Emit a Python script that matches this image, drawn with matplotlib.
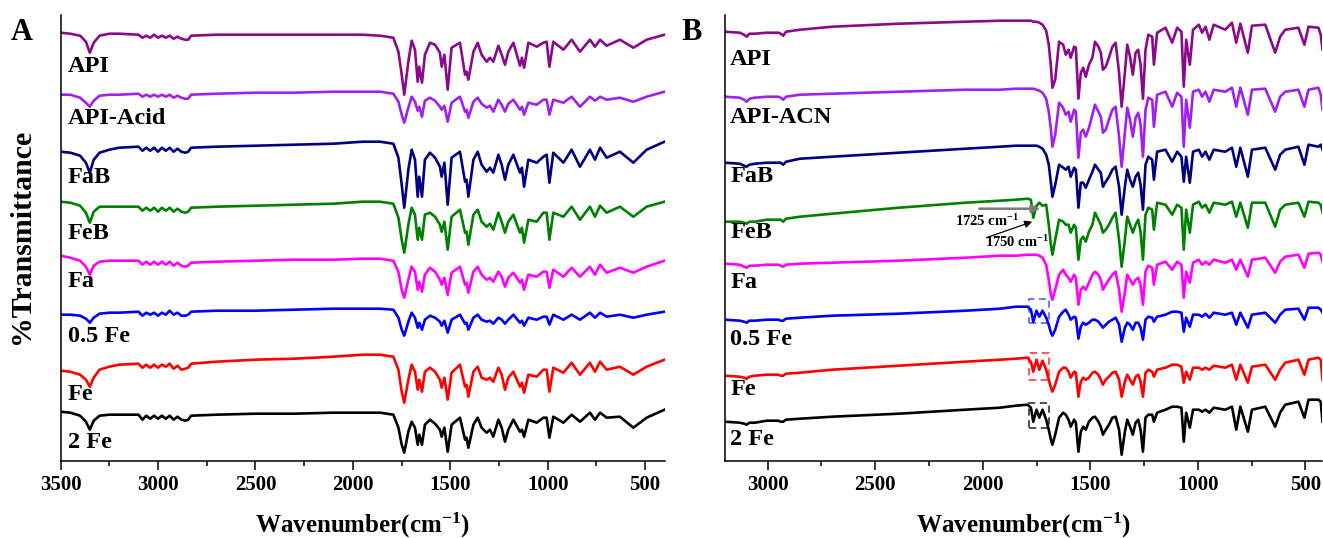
import numpy as np
import matplotlib

matplotlib.use("Agg")
import matplotlib.pyplot as plt
from matplotlib.patches import Rectangle
from matplotlib.ticker import MultipleLocator

plt.rcParams["font.family"] = ["Liberation Serif", "DejaVu Serif"]
plt.rcParams["font.weight"] = "bold"
plt.rcParams["mathtext.fontset"] = "custom"
plt.rcParams["mathtext.rm"] = "Liberation Serif:bold"
plt.rcParams["mathtext.it"] = "Liberation Serif:bold"
plt.rcParams["mathtext.bf"] = "Liberation Serif:bold"

COLORS = ["#8B0A8B", "#A020F0", "#000080", "#008000", "#FF00FF", "#0000FF", "#FF0000", "#000000"]

# ---- panel A: full-range spectra (relative transmittance, a.u.) ----
NAMES_A = ["API", "API-Acid", "FaB", "FeB", "Fa", "0.5 Fe", "Fe", "2 Fe"]

WN_A = [3500, 3450, 3400, 3370, 3350, 3330, 3300, 3250, 3200, 3100,
        3080, 3060, 3040, 3020, 3000, 2980, 2960, 2940, 2920, 2900,
        2880, 2860, 2845, 2830, 2700, 2500, 2300, 2100, 1950, 1860,
        1792, 1766, 1749, 1736, 1715, 1698, 1681, 1667, 1659, 1645,
        1630, 1604, 1578, 1553, 1544, 1530, 1513, 1493, 1450, 1424,
        1416, 1407, 1381, 1359, 1339, 1313, 1296, 1279, 1253, 1236,
        1219, 1202, 1176, 1142, 1132, 1121, 1099, 1056, 1022, 1005,
        991, 971, 919, 877, 834, 783, 757, 731, 697, 629,
        560, 492, 400]

API_A = [0, -1, -3, -9, -20, -10, -3, -1, -1, -2, -5, -3, -5, -2, -5, -3, -5, -3, -6, -4,
         -6, -7, -7, -3, -2, -2, -2, -2, -2, -3,
         -5, -19, -42, -62, -29, -8, -17, -49, -34, -50, -22, -10, -12, -20, -34, -22, -57, -15, -10, -42,
         -39, -47, -19, -10, -22, -29, -25, -29, -13, -22, -32, -19, -10, -33, -25, -35, -10, -14, -10, -9,
         -34, -9, -17, -7, -19, -7, -14, -7, -13, -7, -15, -7, -2]
API_ACID_A = [0, 0, -3, -8, -12, -6, -1, 0, 0, 1, -2, 0, -2, 0, -2, 0, -2, 0, -3, -1,
              -3, -4, -4, 0, 1, 2, 2, 3, 3, 3,
              1, -7, -20, -28, -13, -2, -7, -16, -12, -22, -6, -3, -6, -12, -15, -11, -27, -8, -2, -17,
              -15, -23, -7, -3, -9, -13, -11, -17, -5, -10, -17, -9, -5, -15, -12, -20, -8, -10, -5, -5,
              -20, -5, -8, -2, -12, -2, -6, -2, -5, -3, -7, -2, 3]
FAB_A = [0, -1, -4, -11, -21, -8, -1, 2, 4, 5, 1, 4, 1, 4, 0, 4, 1, 4, 0, 3,
         0, -1, 0, 4, 5, 6, 7, 8, 10, 10,
         8, -6, -33, -56, -18, 2, -8, -45, -25, -45, -8, -1, -6, -15, -25, -11, -53, -6, 0, -30,
         -28, -45, -8, 0, -13, -20, -16, -21, -3, -13, -28, -13, -3, -21, -16, -35, -8, -11, -5, -3,
         -31, -1, -11, 2, -15, 2, -8, 4, -6, 0, -11, 2, 10]
FEB_A = [0, -1, -4, -11, -21, -10, -5, -5, -5, -5, -9, -6, -9, -6, -10, -6, -9, -6, -10, -7,
         -10, -11, -10, -6, -5, -4, -3, -2, 0, 0,
         -2, -16, -38, -51, -23, -6, -13, -38, -26, -38, -13, -11, -15, -23, -30, -20, -48, -15, -8, -31,
         -30, -43, -13, -8, -20, -25, -22, -28, -11, -20, -31, -20, -13, -31, -26, -41, -18, -20, -11, -11,
         -38, -11, -15, -5, -18, -5, -15, -4, -11, -5, -15, -5, 0]
FA_A = [0, -2, -5, -11, -19, -10, -6, -5, -5, -5, -9, -6, -9, -6, -9, -6, -9, -6, -10, -7,
        -10, -11, -10, -7, -6, -5, -4, -4, -3, -3,
        -5, -16, -34, -42, -24, -11, -16, -34, -26, -36, -19, -12, -16, -24, -29, -22, -39, -17, -11, -29,
        -27, -37, -16, -11, -19, -24, -22, -26, -16, -21, -31, -22, -17, -27, -24, -34, -19, -21, -16, -16,
        -32, -14, -21, -12, -21, -11, -19, -9, -17, -12, -17, -11, -5]
FE05_A = [0, 0, -1, -4, -8, -3, 1, 2, 2, 3, -1, 2, 0, 2, -1, 2, 0, 4, 0, 2,
          -1, -1, 0, 3, 4, 4, 5, 6, 6, 6,
          5, -3, -15, -21, -7, 2, -3, -13, -8, -15, -5, -1, -3, -7, -11, -6, -18, -5, 0, -9,
          -8, -15, -3, 0, -5, -7, -6, -9, -3, -5, -9, -5, 0, -8, -6, -11, -3, -5, -2, -2,
          -10, 0, -5, 0, -5, 2, -3, 2, -2, 0, -3, 0, 3]
FE1_A = [0, -1, -4, -9, -16, -7, 1, 4, 6, 7, 3, 6, 3, 6, 3, 6, 4, 7, 2, 5,
         1, 2, 3, 7, 9, 11, 12, 14, 16, 16,
         14, 1, -21, -32, -9, 6, -1, -19, -9, -21, -1, 3, -1, -9, -17, -7, -29, -2, 6, -16,
         -14, -26, -1, 4, -7, -9, -7, -11, 3, -4, -19, -7, -1, -16, -12, -22, -4, -6, 1, 1,
         -21, 3, -2, 8, -4, 8, -1, 9, 1, 4, -4, 4, 11]
FE2_A = [0, -1, -4, -10, -18, -9, -4, -3, -3, -3, -8, -4, -7, -4, -7, -4, -7, -4, -8, -5,
         -8, -9, -8, -4, -3, -2, -2, -1, -1, -1,
         -3, -16, -33, -41, -20, -10, -16, -33, -23, -33, -13, -8, -12, -18, -25, -16, -40, -13, -6, -28,
         -26, -36, -13, -6, -16, -21, -18, -25, -8, -16, -30, -18, -8, -20, -18, -25, -8, -11, -6, -6,
         -26, -5, -11, -3, -10, -1, -8, -1, -6, -5, -16, -6, 2]

# ---- panel B: solvate / iron series ----
NAMES_B = ["API", "API-ACN", "FaB", "FeB", "Fa", "0.5 Fe", "Fe", "2 Fe"]

WN_B = [3200, 3130, 3110, 3098, 3085, 3060, 3005, 2950, 2940, 2928,
        2915, 2850, 2700, 2390, 2080, 1920, 1846, 1792, 1776, 1765,
        1750, 1737, 1722, 1705, 1693, 1683, 1676, 1663, 1645, 1626,
        1614, 1601, 1591, 1575, 1567, 1555, 1544, 1533, 1521, 1506,
        1490, 1478, 1462, 1451, 1441, 1428, 1413, 1397, 1382, 1366,
        1354, 1339, 1328, 1315, 1302, 1289, 1277, 1266, 1255, 1243,
        1230, 1212, 1204, 1189, 1150, 1119, 1096, 1076, 1065, 1054,
        1037, 1022, 995, 980, 964, 946, 926, 872, 841, 821,
        802, 767, 748, 686, 640, 617, 593, 532, 504, 485,
        439, 428, 420]

API_B = [0, -1, -3, -5, -2, -2, -1, -1, -2, -4, 0, 2, 5, 8, 10, 11, 11, 11,
         11, 10, 10, 9, 7, 1,
         -13, -35, -56, -48, -10, -13, -23, -18, -26, -15, -16, -67, -41, -36, -45, -33, -26, -10, -15, -21,
         -38, -35, -26, -15, -11, -41, -75, -41, -13, -25, -43, -21, -18, -33, -67, -18, -3, -5, -33, -1,
         4, -11, 4, 0, -55, -8, -33, 2, 7, -1, 5, -8, 7, 2, 9, -11, 8, -21, 6, 7,
         -21, -5, 2, 4, -13, 5, 4, -3, -18]
API_ACN_B = [0, -1, -3, -5, -2, -1, 0, 0, -1, -3, 0, 2, 3, 5, 7, 7, 8, 8,
             8, 8, 7, 6, 4, -2,
             -15, -33, -50, -38, -6, -11, -18, -15, -25, -13, -15, -61, -36, -33, -40, -31, -18, -8, -15, -20,
             -36, -33, -23, -13, -10, -40, -70, -36, -11, -23, -40, -21, -16, -28, -60, -13, -1, -3, -30, 2,
             5, -10, 4, 0, -50, -3, -31, 5, 7, 0, 5, -5, 7, 5, 9, -10, 9, -18, 7, 8,
             -15, 0, 5, 7, -10, 7, 9, 2, -13]
FAB_B = [0, -1, -3, -4, -2, -1, 0, 0, 0, -2, 1, 4, 6, 10, 14, 16, 17, 17,
         17, 17, 17, 16, 14, 8,
         -2, -20, -34, -22, -2, -5, -7, -4, -14, -5, -7, -45, -20, -20, -25, -17, -9, -2, -7, -10,
         -24, -19, -14, -7, -4, -24, -52, -24, -7, -17, -24, -14, -10, -22, -47, -2, 6, 3, -17, 11,
         13, 1, 11, 6, -19, 6, -20, 11, 13, 6, 11, 3, 13, 11, 15, -4, 15, -14, 13, 15,
         -7, 8, 13, 16, -2, 18, 16, 18, 13]
FEB_B = [0, 0, -1, -2, 0, 0, 2, 2, 2, 0, 3, 5, 8, 14, 19, 21, 22, 23,
         22, 4, 16, 19, 16, 17,
         -3, -23, -33, -18, 2, 0, -3, -3, -11, -3, -6, -38, -18, -15, -20, -10, -3, 9, 2, -3,
         -11, -8, -3, 4, 9, -18, -45, -18, 5, -3, -11, -3, 2, -10, -38, 7, 14, 12, -8, 19,
         17, 7, 17, 14, -28, 12, -11, 17, 20, 14, 17, 9, 19, 17, 20, 5, 19, -6, 19, 19,
         -5, 12, 17, 19, 5, 20, 19, 17, 9]
FA_B = [0, -1, -3, -4, -2, -2, -1, -1, -2, -3, -1, 0, 1, 3, 6, 8, 8, 9,
        9, 9, 9, 8, 6, -1,
        -16, -31, -36, -26, -11, -6, -11, -14, -18, -11, -14, -41, -26, -23, -26, -19, -11, -8, -11, -16,
        -26, -21, -16, -11, -8, -26, -48, -29, -11, -16, -21, -16, -14, -21, -41, -8, -2, -4, -21, -1,
        2, -6, 2, -1, -34, -8, -19, 1, 4, -1, 2, -1, 4, 1, 4, -6, 4, -13, 4, 6,
        -9, 2, 7, 9, -4, 10, 11, 9, 2]
FE05_B = [0, -1, -2, -3, -1, -1, 0, 0, -1, -1, 1, 2, 4, 6, 9, 11, 13, 13,
          10, -2, 9, 3, 9, 2,
          -5, -13, -16, -10, 3, 8, 10, 5, 0, 3, 2, -19, -7, -3, -5, -3, 0, 0, -2, -5,
          -8, -5, -2, 0, 2, -5, -22, -8, -3, -5, -10, -3, -3, -8, -20, 0, 3, 2, -2, 3,
          5, 8, 8, 7, -12, 2, -7, 5, 5, 3, 6, 2, 7, 5, 7, -5, 7, -8, 5, 7,
          -3, 5, 10, 11, 0, 12, 12, 10, 7]
FE1_B = [0, -1, -2, -3, -1, 0, 1, 1, 0, 0, 2, 3, 6, 10, 14, 16, 17, 18,
         14, 4, 16, 6, 15, 6,
         -4, -12, -16, -9, 4, 8, 8, 4, -2, 4, 3, -21, -6, -2, -4, -2, 3, 4, 1, -4,
         -9, -4, -1, 3, 4, -4, -21, -6, 1, -4, -9, -1, 1, -6, -21, 3, 6, 4, -1, 6,
         8, 11, 11, 9, -7, 4, -4, 8, 8, 6, 8, 6, 10, 8, 11, -4, 11, -7, 9, 11,
         -4, 6, 13, 16, 1, 16, 18, 16, -4]
FE2_B = [0, -1, -2, -3, -1, -1, 1, 1, 0, 0, 2, 3, 5, 8, 12, 14, 16, 17,
         14, 0, 12, 4, 12, 2,
         -8, -18, -23, -13, 4, 9, 7, 2, -5, 2, -1, -30, -10, -5, -8, 0, 4, 5, 0, -5,
         -13, -8, -3, 4, 5, -8, -33, -10, 2, -5, -13, -1, 2, -8, -30, 4, 7, 7, 0, 9,
         12, 15, 15, 14, -20, 9, -6, 12, 12, 10, 12, 9, 14, 12, 15, -8, 15, -10, 12, 15,
         -5, 9, 17, 20, 4, 22, 22, 20, 0]

SPECTRA_A = [API_A, API_ACID_A, FAB_A, FEB_A, FA_A, FE05_A, FE1_A, FE2_A]
SPECTRA_B = [API_B, API_ACN_B, FAB_B, FEB_B, FA_B, FE05_B, FE1_B, FE2_B]

# vertical stacking of the traces and their name tags
SHIFT_A = [428, 366, 309, 259, 205, 146, 90, 49]
SHIFT_B = [429, 364, 298, 239, 197, 141, 85, 39]
TAG_Y_A = [394, 342, 283, 227, 179, 124, 66, 18]
TAG_Y_B = [401, 343, 284, 228, 178, 121, 71, 21]
Y_MAX = 445.7


def draw_panel(ax, wn, spectra, shifts, names, tag_y, tag_x, xlim):
    for values, shift, color in zip(spectra, shifts, COLORS):
        ax.plot(wn, np.asarray(values, dtype=float) + shift, color=color, lw=1.9,
                solid_joinstyle="round")
    for name, y in zip(names, tag_y):
        ax.text(tag_x, y, name, fontsize=17.5, fontweight="bold", ha="left", va="center")
    ax.set_xlim(*xlim)
    ax.set_ylim(0, Y_MAX)
    ax.spines["top"].set_visible(False)
    ax.spines["right"].set_visible(False)
    ax.spines["left"].set_linewidth(1.1)
    ax.spines["bottom"].set_linewidth(1.1)
    ax.set_yticks([])
    ax.xaxis.set_major_locator(MultipleLocator(500))
    ax.xaxis.set_minor_locator(MultipleLocator(250))
    ax.tick_params(axis="x", which="major", direction="out", length=6.5, width=1.1,
                   labelsize=15, pad=4)
    ax.tick_params(axis="x", which="minor", direction="out", length=3.5, width=1.1)
    for lab in ax.get_xticklabels():
        lab.set_fontweight("bold")
    ax.set_xlabel("Wavenumber(cm$^{-1}$)", fontsize=18, fontweight="bold", labelpad=11)


fig = plt.figure(figsize=(13.23, 5.38), dpi=100)
ax_a = fig.add_axes([0.0458, 0.1437, 0.4565, 0.8284])
ax_b = fig.add_axes([0.5478, 0.1437, 0.4518, 0.8284])

draw_panel(ax_a, WN_A, SPECTRA_A, SHIFT_A, NAMES_A, TAG_Y_A, 3462, (3500, 400))
draw_panel(ax_b, WN_B, SPECTRA_B, SHIFT_B, NAMES_B, TAG_Y_B, 3175, (3200, 420))

# carbonyl doublet callouts on the FeB trace
ax_b.annotate("", xy=(1733, 252), xytext=(2016, 252),
              arrowprops=dict(arrowstyle="-|>", color="#7a7a7a", lw=1.8,
                              mutation_scale=12, shrinkA=0, shrinkB=0))
ax_b.annotate("", xy=(1770, 239), xytext=(1983, 223),
              arrowprops=dict(arrowstyle="-|>", color="black", lw=0.9,
                              mutation_scale=11, shrinkA=0, shrinkB=0))
ax_b.text(1979, 240, "1725 cm$^{-1}$", fontsize=10.5, fontweight="bold", ha="center", va="center")
ax_b.text(1840, 219, "1750 cm$^{-1}$", fontsize=10.5, fontweight="bold", ha="center", va="center")

# dashed boxes around the split C=O band of the iron samples
for (y0, y1), color in zip([(137.4, 161.4), (80.7, 108.0), (32.4, 57.4)],
                           ["#6270ff", "#ff4a4a", "#404040"]):
    ax_b.add_patch(Rectangle((1787, y0), 1694 - 1787, y1 - y0, fill=False,
                             edgecolor=color, lw=1.3, ls=(0, (4, 2.5))))

fig.text(22 / 1323, 1 - 236 / 538, "%Transmittance", rotation=90, fontsize=21.5,
         fontweight="bold", ha="center", va="center")
fig.text(22 / 1323, 1 - 32 / 538, "A", fontsize=22, fontweight="bold", ha="center", va="center")
fig.text(692 / 1323, 1 - 33 / 538, "B", fontsize=22, fontweight="bold", ha="center", va="center")

fig.savefig("out.png", dpi=100)
